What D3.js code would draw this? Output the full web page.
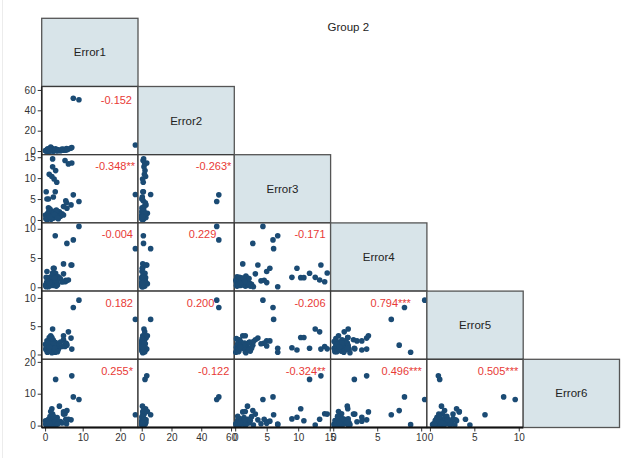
<!DOCTYPE html>
<html>
<head>
<meta charset="utf-8">
<script src="https://cdn.jsdelivr.net/npm/d3@7"></script>
<style>
  body { margin: 0; background: #fff; }
  svg text { font-family: "Liberation Sans", Arial, sans-serif; }
</style>
</head>
<body>
<script>
// variables
const names = ["Error1", "Error2", "Error3", "Error4", "Error5", "Error6"];

// observations (same order in every array)
const error1 = [24.0, 7.5, 9.0, 2.7, 5.8, 2.8, 7.1, 2.0, 6.2, 0.3, 3.1, 2.4, 1.8, 1.1, 5.3, 2.0, 3.8, 0.5, 6.9, 4.9, 4.9, 2.2, 5.5, 5.7, 1.5, 0.9,
  0.2, 0.5, 0.8, 1.0, 1.2, 1.4, 1.6, 1.9, 2.1, 2.3, 2.6, 0.4, 0.7, 1.1, 1.3, 1.7, 2.0, 2.4, 2.8, 3.2, 3.5, 0.1, 0.6, 0.9, 1.5, 1.8, 2.2, 2.9, 3.0, 4.1, 4.5, 0.3, 1.0, 1.6, 2.5, 3.3, 0.8, 1.2];
const error2 = [6.0, 51.8, 50.4, 1.1, 1.2, 2.2, 3.4, 1.5, 2.0, 0.8, 1.0, 0.6, 2.6, 1.8, 0.9, 1.3, 0.5, 0.2, 2.9, 0.7, 1.6, 0.4, 1.0, 2.4, 3.8, 0.3,
  0.1, 0.4, 0.2, 0.9, 0.3, 1.2, 0.5, 0.7, 1.4, 0.2, 0.8, 0.6, 2.1, 0.1, 0.4, 1.6, 0.3, 1.0, 0.6, 0.2, 1.3, 0.5, 0.9, 0.2, 2.8, 0.7, 0.4, 1.1, 0.8, 0.3, 1.9, 0.1, 1.5, 0.3, 0.9, 0.5, 1.7, 0.6];
const error3 = [6.1, 6.0, 4.4, 6.75, 2.8, 11.8, 13.6, 12.7, 13.4, 6.75, 9.0, 9.8, 10.4, 10.9, 14.2, 14.6, 1.95, 5.0, 3.6, 1.2, 3.2, 5.5, 4.6, 4.1, 1.6, 5.0,
  0.3, 1.1, 0.6, 1.8, 0.9, 2.3, 0.4, 1.5, 0.7, 2.0, 1.3, 0.2, 1.6, 1.0, 2.6, 0.5, 1.9, 0.8, 2.2, 1.4, 0.3, 1.2, 0.1, 2.9, 0.6, 1.7, 0.4, 1.1, 2.4, 0.9, 1.5, 0.7, 2.1, 0.2, 1.3, 0.5, 1.5, 0.8];
const error4 = [6.6, 8.1, 10.4, 8.8, 7.5, 2.4, 3.8, 1.7, 1.25, 0.1, 1.7, 3.25, 1.65, 1.65, 0.95, 2.45, 1.6, 2.7, 3.8, 4.0, 2.3, 3.25, 1.2, 1.1, 0.6, 0.8,
  0.2, 0.5, 0.9, 0.3, 1.1, 0.7, 1.4, 0.4, 1.0, 0.6, 1.3, 0.8, 0.2, 1.6, 0.5, 1.2, 0.9, 0.3, 1.5, 0.7, 1.8, 0.4, 1.2, 0.1, 0.8, 1.9, 0.5, 1.1, 0.2, 1.4, 0.9, 1.7, 0.6, 0.3, 1.6, 0.4, 1.0, 0.7];
const error5 = [6.2, 8.3, 9.6, 0.4, 1.65, 1.1, 0.95, 4.5, 4.0, 1.1, 1.2, 0.8, 3.0, 3.0, 1.4, 1.0, 1.3, 2.4, 2.9, 3.3, 2.6, 2.4, 2.0, 1.9, 3.3, 1.5,
  0.9, 1.4, 0.6, 1.9, 1.2, 2.2, 0.8, 1.6, 2.6, 1.0, 1.8, 1.3, 0.5, 2.0, 1.1, 2.4, 0.7, 1.5, 2.1, 1.7, 0.9, 1.8, 0.4, 2.3, 1.0, 0.3, 1.9, 1.2, 0.6, 2.2, 1.4, 1.6, 0.8, 2.8, 1.1, 0.5, 2.0, 1.3];
const error6 = [3.4, 9.0, 8.2, 0.3, 4.7, 14.5, 15.6, 0.2, 2.0, 0.5, 2.1, 2.6, 5.3, 1.5, 3.7, 3.6, 6.1, 1.2, 1.8, 4.3, 3.6, 1.4, 2.0, 0.6, 4.4, 0.7,
  0.4, 1.0, 0.2, 1.3, 0.6, 0.9, 1.7, 0.3, 2.2, 0.8, 1.4, 0.1, 0.5, 1.1, 2.8, 0.7, 1.9, 0.4, 1.2, 2.5, 0.9, 1.5, 0.6, 0.2, 1.0, 0.3, 2.9, 0.5, 1.6, 1.3, 0.8, 0.7, 2.0, 0.2, 1.1, 0.4, 1.8, 0.9];
const series = [error1, error2, error3, error4, error5, error6];

// correlation labels, corrText[row][col] for row > col
const corrText = [
  [],
  ["-0.152"],
  ["-0.348**", "-0.263*"],
  ["-0.004", "0.229", "-0.171"],
  ["0.182", "0.200", "-0.206", "0.794***"],
  ["0.255*", "-0.122", "-0.324**", "0.496***", "0.505***"]
];

// axis domains and ticks
const xDomains = [[-0.9, 24.7], [-2.5, 62.2], [-0.14, 15.14], [-0.3, 10.65], [-0.34, 10.5], [-0.6, 20.8]];
const yDomains = [[-0.9, 24.7], [-3.6, 63.4], [-0.7, 15.6], [-0.65, 11.0], [-0.85, 11.2], [-0.6, 20.8]];
const xTicks = [[0, 10, 20], [0, 20, 40, 60], [0, 5, 10, 15], [0, 5, 10], [0, 5, 10], []];
const yTicks = [[], [0, 20, 40, 60], [0, 5, 10, 15], [0, 5, 10], [0, 5, 10], [0, 10, 20]];

// layout
const W = 637, H = 458;
const x0 = 41.7, y0 = 18.3, cw = 96.3, ch = 68.2;
const n = names.length;
const dotColor = "#1b4b74", corrColor = "#e83a36", diagFill = "#d8e4e9";
// a few labels were shifted left to stay clear of points
const nudge = {"1-0": [-1, 2], "3-1": [-13, 0], "4-1": [-15, 0], "4-3": [-11, 0], "2-0": [2, 0], "2-1": [2, 0]};

const svg = d3.select("body").append("svg").attr("width", W).attr("height", H);

svg.append("line").attr("x1", 2.5).attr("x2", 2.5).attr("y1", 0).attr("y2", H)
  .attr("stroke", "#ececec").attr("stroke-width", 1);

svg.append("text").attr("x", 348.3).attr("y", 31)
  .attr("text-anchor", "middle").attr("font-size", 11.5).attr("fill", "#222")
  .text("Group 2");

// scales per variable, local to a cell
const xs = xDomains.map(d => d3.scaleLinear().domain(d).range([0, cw]));
const ys = yDomains.map(d => d3.scaleLinear().domain(d).range([ch, 0]));

const cells = [];
for (let i = 0; i < n; i++) for (let j = 0; j <= i; j++) cells.push({i, j});

const cell = svg.selectAll(".cell").data(cells).enter().append("g")
  .attr("class", "cell")
  .attr("transform", d => `translate(${x0 + d.j * cw},${y0 + d.i * ch})`);

// frames
cell.append("rect")
  .attr("width", cw).attr("height", ch)
  .attr("fill", d => d.i === d.j ? diagFill : "#fff")
  .attr("stroke", d => d.i === d.j ? "#555" : "#3a3a3a")
  .attr("stroke-width", 1.3);

// diagonal labels
cell.filter(d => d.i === d.j).append("text")
  .attr("x", cw / 2).attr("y", ch / 2 + 4)
  .attr("text-anchor", "middle").attr("font-size", 11.5).attr("fill", "#222")
  .text(d => names[d.i]);

// points
cell.filter(d => d.i > d.j).each(function(d) {
  const xv = series[d.j], yv = series[d.i];
  d3.select(this).selectAll("circle")
    .data(xv.map((v, k) => [v, yv[k]]))
    .enter().append("circle")
      .attr("cx", p => xs[d.j](p[0]))
      .attr("cy", p => ys[d.i](p[1]))
      .attr("r", 2.8)
      .attr("fill", dotColor);
});

// correlation text
cell.filter(d => d.i > d.j).append("text")
  .attr("x", d => cw - 5 + (nudge[d.i + "-" + d.j] || [0, 0])[0])
  .attr("y", d => 15.5 + (nudge[d.i + "-" + d.j] || [0, 0])[1])
  .attr("text-anchor", "end").attr("font-size", 11).attr("fill", corrColor)
  .text(d => corrText[d.i][d.j]);

// left axes
for (let i = 1; i < n; i++) {
  const g = svg.append("g").attr("transform", `translate(${x0},${y0 + i * ch})`)
    .call(d3.axisLeft(ys[i]).tickValues(yTicks[i]).tickSize(4).tickPadding(2));
  g.select(".domain").remove();
}
// bottom axes
for (let j = 0; j < n - 1; j++) {
  const g = svg.append("g").attr("transform", `translate(${x0 + j * cw},${y0 + n * ch})`)
    .call(d3.axisBottom(xs[j]).tickValues(xTicks[j]).tickSize(4).tickPadding(2));
  g.select(".domain").remove();
}
svg.selectAll(".tick text").attr("font-size", 10).attr("fill", "#333")
  .style("font-family", "'Liberation Sans', Arial, sans-serif");
svg.selectAll(".tick line").attr("stroke", "#333");

// axis lines
svg.append("line").attr("x1", x0).attr("x2", x0)
  .attr("y1", y0 + ch).attr("y2", y0 + n * ch)
  .attr("stroke", "#222").attr("stroke-width", 1.5);
svg.append("line").attr("x1", x0).attr("x2", x0 + (n - 1) * cw)
  .attr("y1", y0 + n * ch).attr("y2", y0 + n * ch)
  .attr("stroke", "#111").attr("stroke-width", 1.8);
</script>
</body>
</html>
